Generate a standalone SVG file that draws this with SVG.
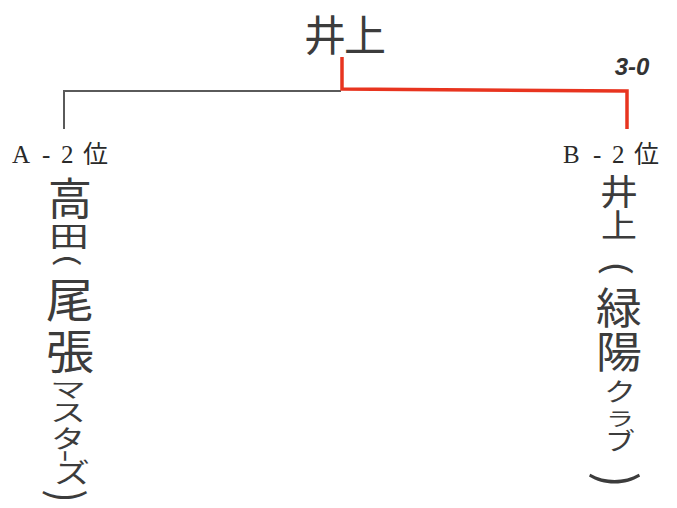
<svg xmlns="http://www.w3.org/2000/svg" width="677" height="508" viewBox="0 0 677 508">
<style>
.hw{font-family:"Noto Sans CJK JP","Noto Sans CJK SC",sans-serif;fill:#3c3c3c;text-anchor:middle;dominant-baseline:central}
.lbl{font-family:"Liberation Serif","Noto Sans CJK JP",serif;font-size:25px;fill:#2a2a2a}
.gray{stroke:#5a5a5a;stroke-width:2;fill:none}
.red{stroke:#e8341f;stroke-width:3.5;fill:none}
</style>
<rect width="677" height="508" fill="#ffffff"/>
<g id="connectors">
<path class="gray" d="M64,129 V91 H341"/>
<path class="red" d="M342,57 V89 L627,91 V129"/>
</g>
<g id="winner">
<text class="hw" x="344" y="32" font-size="42" letter-spacing="-2">井上</text>
<text x="632" y="66" font-family="Liberation Sans, sans-serif" font-style="italic" font-weight="bold" font-size="24" fill="#333" text-anchor="middle" dominant-baseline="central">3-0</text>
</g>
<g id="nodeA">
<text class="lbl" x="12 42 61 83" y="163">A-2位</text>
<text class="hw" transform="translate(70,195) scale(1,1.02)" font-size="44">高</text>
<text class="hw" transform="translate(69,235) scale(1,0.72)" font-size="40">田</text>
<text class="hw" transform="translate(70,260) rotate(90) scale(1,0.7)" font-size="40">(</text>
<text class="hw" transform="translate(70,297) scale(1,0.98)" font-size="48">尾</text>
<text class="hw" transform="translate(70,349) scale(1,0.98)" font-size="48">張</text>
<text class="hw" transform="translate(68,388) scale(1,0.58)" font-size="36">マ</text>
<text class="hw" transform="translate(68,411) scale(1,0.65)" font-size="36">ス</text>
<text class="hw" transform="translate(68,437) scale(1,0.75)" font-size="34">タ</text>
<text class="hw" transform="translate(67,456) rotate(90) scale(0.5,1)" font-size="24">ー</text>
<text class="hw" transform="translate(72,471) scale(1,0.75)" font-size="36">ズ</text>
<text class="hw" transform="translate(70,496) rotate(90) scale(1,1.1)" font-size="40">)</text>
</g>
<g id="nodeB">
<text class="lbl" x="563 593 612 634" y="163">B-2位</text>
<text class="hw" transform="translate(619,190) scale(1,0.92)" font-size="38">井</text>
<text class="hw" transform="translate(619,223) scale(1,0.88)" font-size="36">上</text>
<text class="hw" transform="translate(620,268) rotate(90) scale(1.05,0.85)" font-size="40">(</text>
<text class="hw" transform="translate(619,305) scale(1,0.93)" font-size="46">緑</text>
<text class="hw" transform="translate(619,349) scale(1,0.93)" font-size="46">陽</text>
<text class="hw" transform="translate(620,390) scale(1,0.78)" font-size="32">ク</text>
<text class="hw" transform="translate(620,417) scale(1,0.7)" font-size="28">ラ</text>
<text class="hw" transform="translate(620,439) scale(1,0.8)" font-size="30">ブ</text>
<text class="hw" transform="translate(621,480) rotate(90) scale(1.15,1.2)" font-size="42">)</text>
</g>
</svg>
